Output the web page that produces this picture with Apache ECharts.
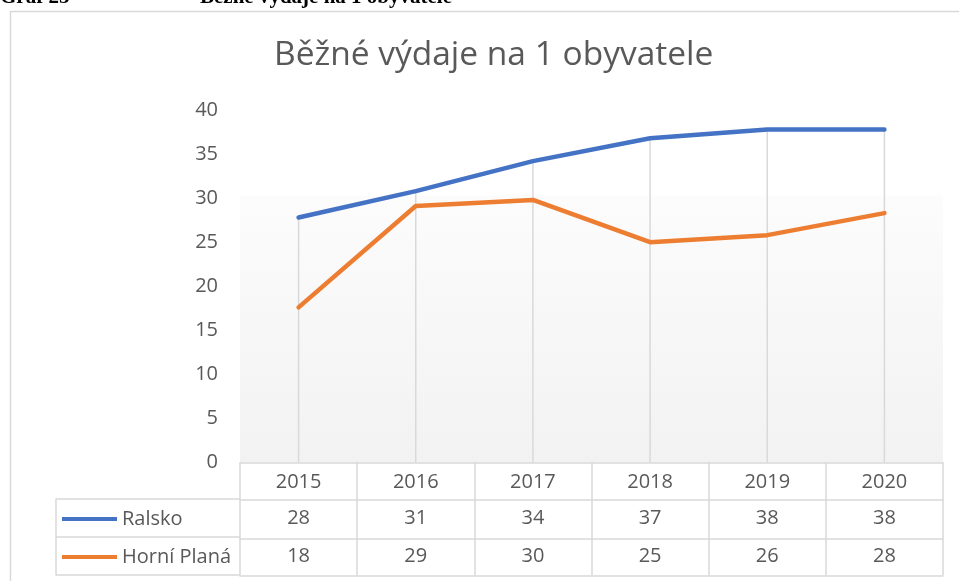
<!DOCTYPE html>
<html>
<head>
<meta charset="utf-8">
<title>Běžné výdaje na 1 obyvatele</title>
<script src="https://cdn.jsdelivr.net/npm/echarts@6/dist/echarts.min.js"></script>
<style>
  html, body { margin: 0; padding: 0; background: #fff; }
  #chart { width: 959px; height: 581px; }
</style>
</head>
<body>
<div id="chart"></div>
<script>
// data
var years = ['2015', '2016', '2017', '2018', '2019', '2020'];
var ralsko = [27.8, 30.8, 34.2, 36.8, 37.8, 37.8];
var hornePlana = [17.6, 29.1, 29.8, 25.0, 25.8, 28.3];
// values printed in the data table
var ralskoTable = [28, 31, 34, 37, 38, 38];
var planaTable = [18, 29, 30, 25, 26, 28];
var yTicks = { min: 0, max: 40, interval: 5 };

var font = 'Open Sans';
var txt = '#595959';
var border = '#d9d9d9';

var chart = echarts.init(document.getElementById('chart'));

var option = {
    animation: false,
    textStyle: {fontFamily: font},
    title: {
        text: 'Běžné výdaje na 1 obyvatele',
        left: 274,
        top: 38,
        padding: 0,
        textStyle: {fontFamily: font, fontSize: 33.5, fontWeight: 'normal', color: txt}
    },
    graphic: [
        // outer frame of the chart
        {type: 'rect', shape: {x: 10.5, y: 11.5, width: 1000, height: 1000},
         style: {fill: null, stroke: border, lineWidth: 1.5}, silent: true},
        // caption above the chart (cut off in the picture)
        {type: 'text', left: 0, top: -13,
         style: {text: 'Graf 25', font: 'bold 21px "Liberation Serif"', fill: '#000'}},
        {type: 'text', left: 200, top: -13,
         style: {text: 'Běžné výdaje na 1 obyvatele', font: 'bold 21px "Liberation Serif"', fill: '#000'}}
    ],
    legend: {
        data: ['Ralsko', 'Horní Planá'],
        orient: 'vertical',
        left: 62,
        top: 509,
        padding: 0,
        itemWidth: 55,
        itemHeight: 4,
        itemGap: 18,
        icon: 'rect',
        textStyle: {fontFamily: font, fontSize: 20, color: txt},
        selectedMode: false
    },
    grid: [{
        left: 240, right: 16, top: 110, bottom: 118.5,
        show: true, borderWidth: 0,
        backgroundColor: new echarts.graphic.LinearGradient(0, 0, 0, 1, [
            {offset: 0, color: '#ffffff'},
            {offset: 0.24, color: '#ffffff'},
            {offset: 0.245, color: '#fcfcfc'},
            {offset: 1, color: '#f2f2f2'}
        ])
    }, {
        // legend column of the data table
        left: 56, width: 184, top: 499, height: 76
    }],
    xAxis: [{
        type: 'category', data: years, gridIndex: 0, position: 'bottom',
        axisLine: {lineStyle: {color: border, width: 1.5}},
        axisTick: {show: true, length: 113, lineStyle: {color: border, width: 1.5}},
        axisLabel: {fontSize: 20, color: txt, margin: 10}
    }, {
        type: 'category', data: years, gridIndex: 0, position: 'bottom', offset: 37,
        axisLine: {lineStyle: {color: border, width: 1.5}},
        axisTick: {show: false},
        axisLabel: {fontSize: 20, color: txt, margin: 9,
                    formatter: function (v, i) { return String(ralskoTable[i]); }}
    }, {
        type: 'category', data: years, gridIndex: 0, position: 'bottom', offset: 76,
        axisLine: {lineStyle: {color: border, width: 1.5}},
        axisTick: {show: false},
        axisLabel: {fontSize: 20, color: txt, margin: 8,
                    formatter: function (v, i) { return String(planaTable[i]); }}
    }, {
        type: 'category', data: years, gridIndex: 0, position: 'bottom', offset: 113,
        axisLine: {lineStyle: {color: border, width: 1.5}},
        axisTick: {show: false},
        axisLabel: {show: false}
    }, {
        type: 'value', gridIndex: 1, show: false
    }],
    yAxis: [{
        type: 'value', gridIndex: 0,
        min: yTicks.min, max: yTicks.max, interval: yTicks.interval,
        axisLine: {show: false}, axisTick: {show: false}, splitLine: {show: false},
        axisLabel: {fontSize: 20, color: txt, margin: 22, padding: [3, 0, 0, 0]}
    }, {
        type: 'category', gridIndex: 1, data: ['Ralsko', 'Horní Planá'], inverse: true,
        axisLine: {show: true, lineStyle: {color: border, width: 1.5}},
        axisTick: {show: false}, axisLabel: {show: false},
        splitLine: {show: true, lineStyle: {color: border, width: 1.5}}
    }],
    series: [{
        // drop lines from the top series down to the axis
        name: 'drop', type: 'bar', data: ralsko, barWidth: 1.5,
        itemStyle: {color: border}, silent: true, z: 1
    }, {
        name: 'Ralsko', type: 'line', data: ralsko,
        showSymbol: false, z: 3,
        itemStyle: {color: '#4472c4'},
        lineStyle: {color: '#4472c4', width: 4.5, cap: 'round', join: 'round'}
    }, {
        name: 'Horní Planá', type: 'line', data: hornePlana,
        showSymbol: false, z: 3,
        itemStyle: {color: '#ed7d31'},
        lineStyle: {color: '#ed7d31', width: 4.5, cap: 'round', join: 'round'}
    }]
};

chart.setOption(option);

window.onresize = function () {
    chart.resize();
};
</script>
</body>
</html>
